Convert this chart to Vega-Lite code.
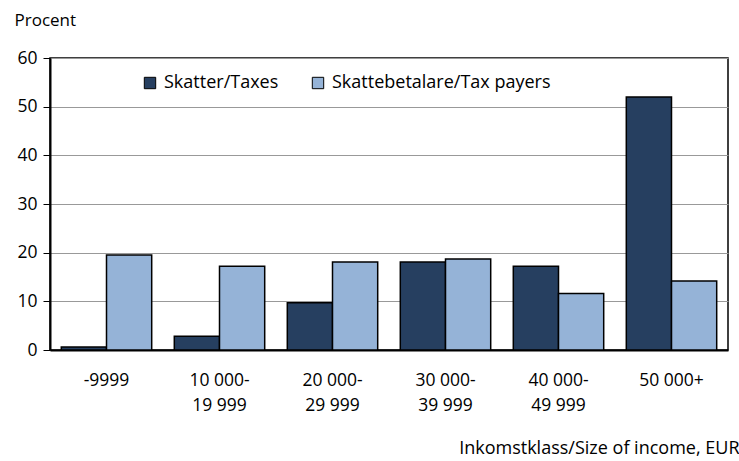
{
  "$schema": "https://vega.github.io/schema/vega-lite/v6.json",
  "width": 678,
  "height": 292,
  "autosize": {"type": "none"},
  "padding": {"left": 50, "top": 58, "right": 11, "bottom": 111},
  "background": "white",
  "config": {
    "font": "Open Sans",
    "view": {"stroke": "black", "strokeWidth": 1.5}
  },
  "data": {
    "values": [
      {"klass": "-9999", "serie": "Skatter/Taxes", "procent": 0.6},
      {"klass": "-9999", "serie": "Skattebetalare/Tax payers", "procent": 19.5},
      {"klass": "10 000-|19 999", "serie": "Skatter/Taxes", "procent": 2.8},
      {"klass": "10 000-|19 999", "serie": "Skattebetalare/Tax payers", "procent": 17.2},
      {"klass": "20 000-|29 999", "serie": "Skatter/Taxes", "procent": 9.7},
      {"klass": "20 000-|29 999", "serie": "Skattebetalare/Tax payers", "procent": 18.1},
      {"klass": "30 000-|39 999", "serie": "Skatter/Taxes", "procent": 18.1},
      {"klass": "30 000-|39 999", "serie": "Skattebetalare/Tax payers", "procent": 18.7},
      {"klass": "40 000-|49 999", "serie": "Skatter/Taxes", "procent": 17.2},
      {"klass": "40 000-|49 999", "serie": "Skattebetalare/Tax payers", "procent": 11.6},
      {"klass": "50 000+", "serie": "Skatter/Taxes", "procent": 52.0},
      {"klass": "50 000+", "serie": "Skattebetalare/Tax payers", "procent": 14.2}
    ]
  },
  "mark": {"type": "bar", "stroke": "black", "strokeWidth": 1.5},
  "encoding": {
    "x": {
      "field": "klass",
      "type": "nominal",
      "sort": null,
      "scale": {"paddingInner": 0.2, "paddingOuter": 0.1},
      "axis": {
        "labelExpr": "split(datum.value, '|')",
        "labelAngle": 0,
        "labelFontSize": 17.5,
        "labelColor": "black",
        "labelPadding": 30,
        "labelLineHeight": 25,
        "labelBaseline": "middle",
        "ticks": false,
        "domainColor": "black",
        "domainWidth": 2,
        "title": "Inkomstklass/Size of income, EUR",
        "titleFontSize": 18,
        "titleFontWeight": "normal",
        "titleColor": "black",
        "titleAnchor": "end",
        "titleAlign": "right",
        "titleX": 689,
        "titleY": 98,
        "titleBaseline": "middle"
      }
    },
    "xOffset": {"field": "serie", "type": "nominal", "sort": ["Skatter/Taxes", "Skattebetalare/Tax payers"], "scale": {"paddingInner": 0, "paddingOuter": 0}},
    "y": {
      "field": "procent",
      "type": "quantitative",
      "scale": {"domain": [0, 60], "nice": false},
      "axis": {
        "values": [0, 10, 20, 30, 40, 50, 60],
        "labelFontSize": 17.5,
        "labelColor": "black",
        "labelPadding": 6,
        "tickSize": 7,
        "tickColor": "black",
        "domainColor": "black",
        "domainWidth": 2,
        "gridColor": "#999999",
        "gridWidth": 1,
        "title": "Procent",
        "titleFontSize": 17,
        "titleFontWeight": "normal",
        "titleColor": "black",
        "titleAngle": 0,
        "titleAlign": "left",
        "titleBaseline": "middle",
        "titleX": -36,
        "titleY": -38
      }
    },
    "color": {
      "field": "serie",
      "type": "nominal",
      "scale": {"domain": ["Skatter/Taxes", "Skattebetalare/Tax payers"], "range": ["#263f60", "#95b3d7"]},
      "legend": {
        "title": null,
        "orient": "none",
        "direction": "horizontal",
        "legendX": 91,
        "legendY": 16,
        "labelFontSize": 18,
        "labelLimit": 0,
        "labelColor": "black",
        "symbolType": "square",
        "symbolSize": 130,
        "symbolStrokeColor": "black",
        "symbolStrokeWidth": 1,
        "symbolOpacity": 1,
        "labelOffset": 5,
        "columnPadding": 30
      }
    }
  }
}
